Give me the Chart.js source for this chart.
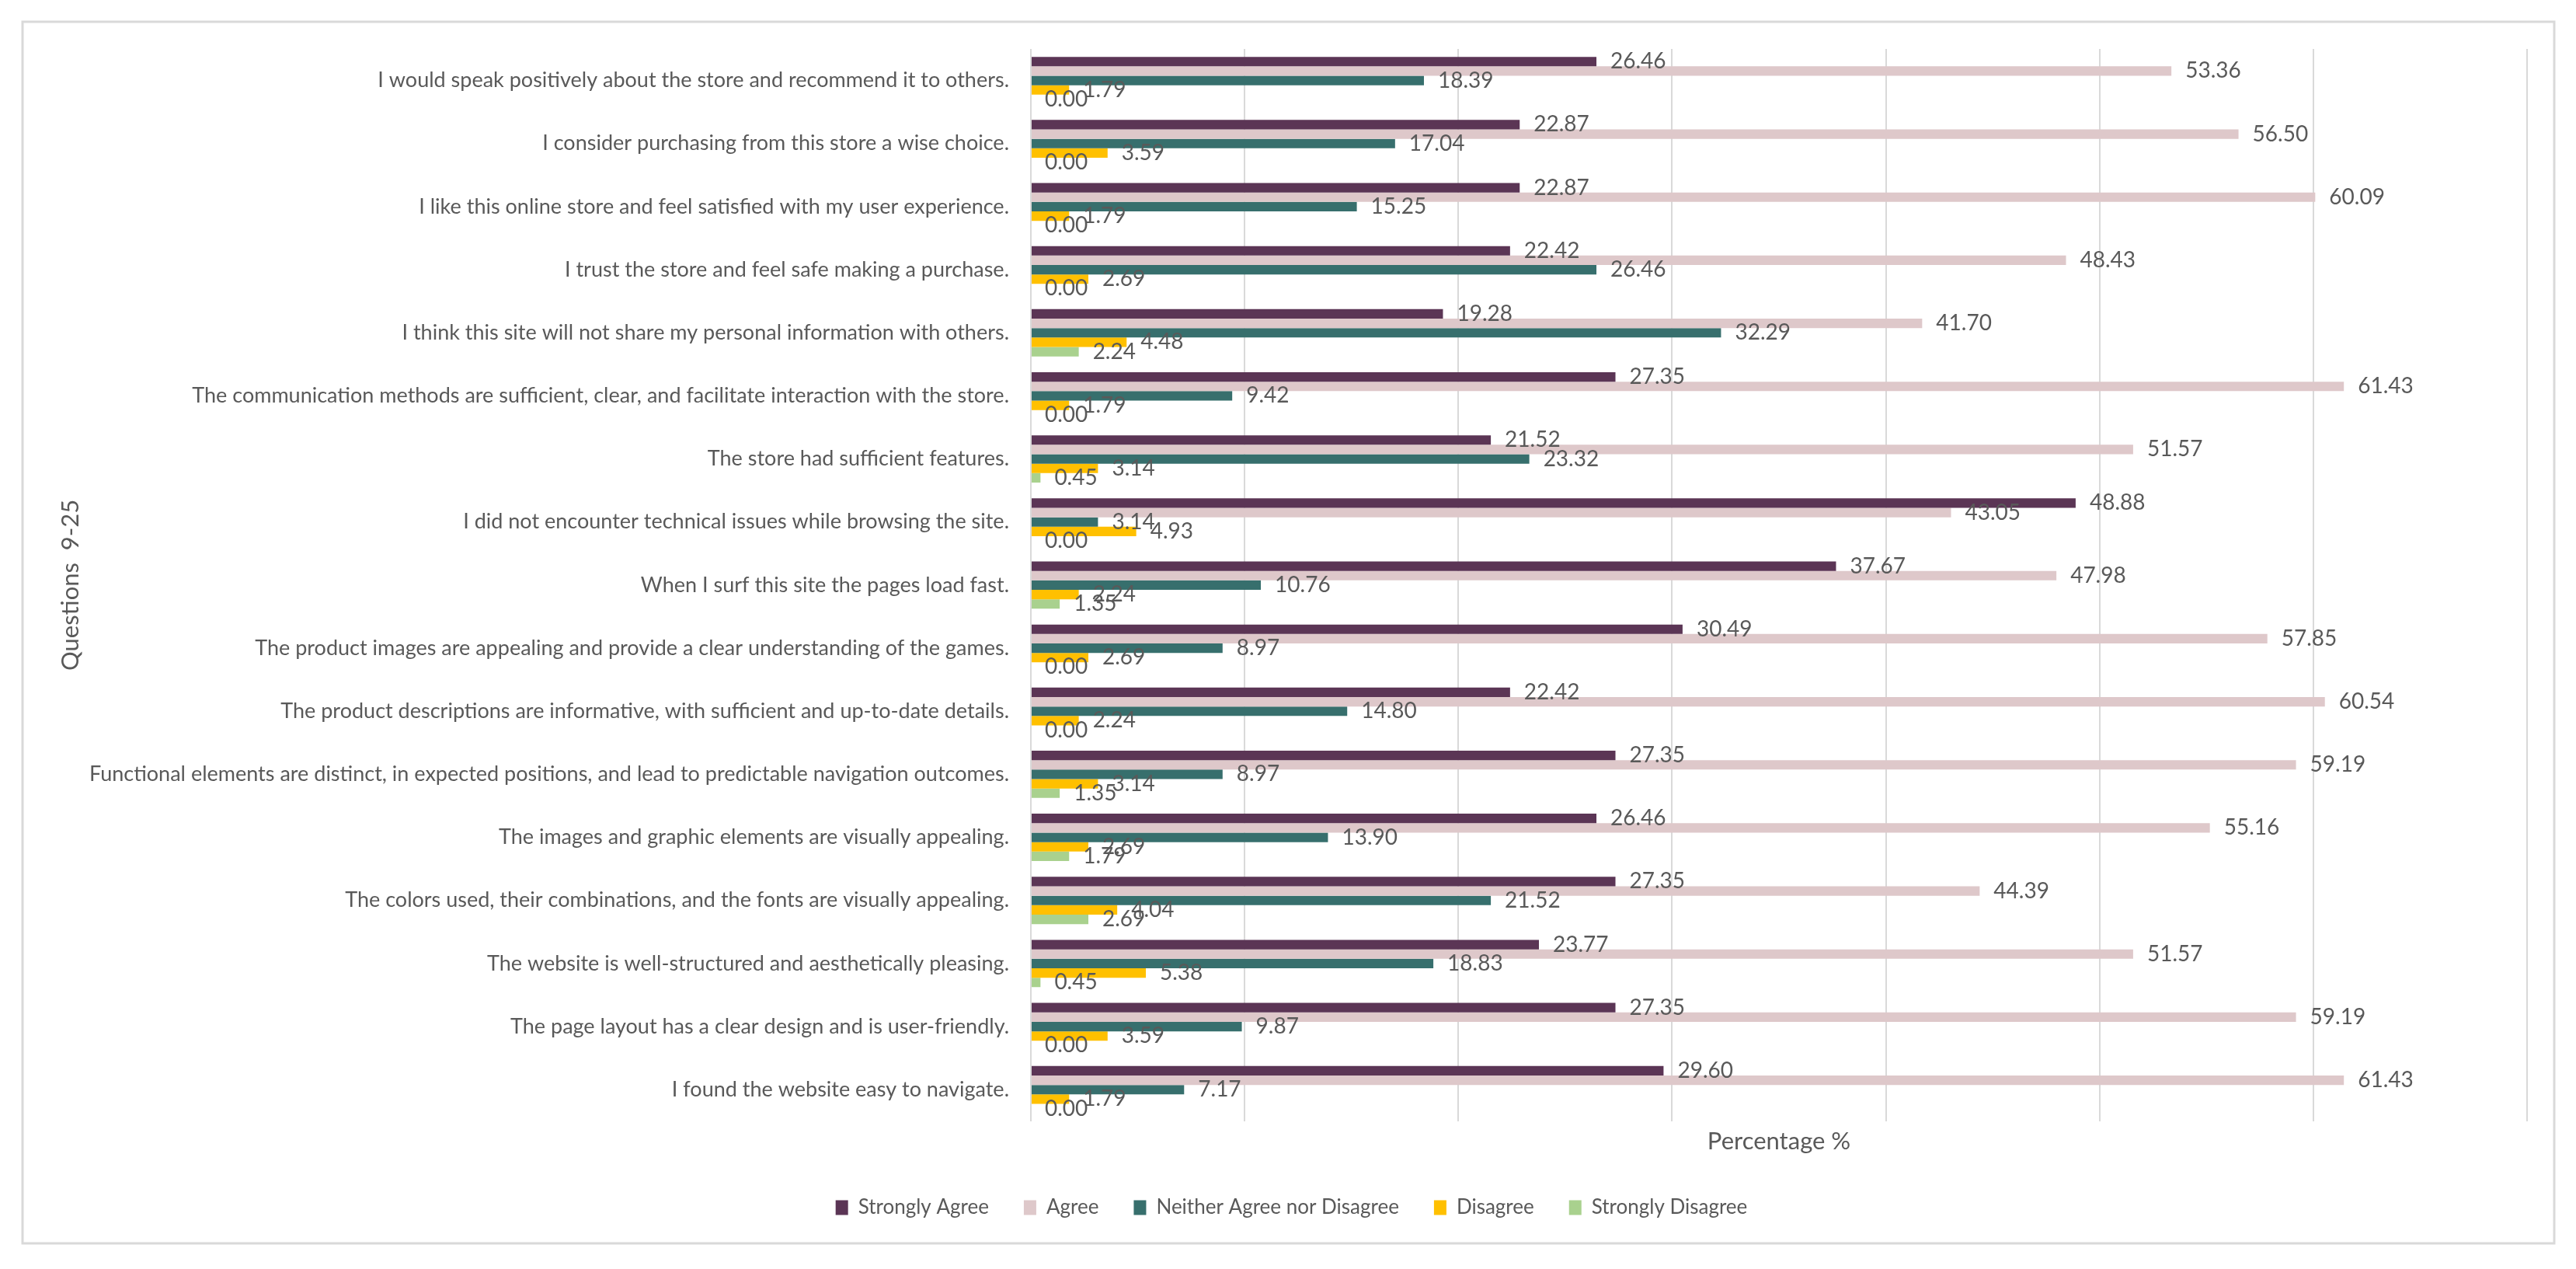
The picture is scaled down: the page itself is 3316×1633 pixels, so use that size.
<!DOCTYPE html>
<html>
<head>
<meta charset="utf-8">
<script src="https://cdn.jsdelivr.net/npm/chart.js@4.4.1/dist/chart.umd.min.js"></script>
<style>
  html, body { margin: 0; padding: 0; background: #fff; }
  #chart { display: block; }
</style>
</head>
<body>
<canvas id="chart" width="3316" height="1633"></canvas>
<script>
const QUESTIONS = [
  "I would speak positively about the store and recommend it to others.",
  "I consider purchasing from this store a wise choice.",
  "I like this online store and feel satisfied with my user experience.",
  "I trust the store and feel safe making a purchase.",
  "I think this site will not share my personal information with others.",
  "The communication methods are sufficient, clear, and facilitate interaction with the store.",
  "The store had sufficient features.",
  "I did not encounter technical issues while browsing the site.",
  "When I surf this site the pages load fast.",
  "The product images are appealing and provide a clear understanding of the games.",
  "The product descriptions are informative, with sufficient and up-to-date details.",
  "Functional elements are distinct, in expected positions, and lead to predictable navigation outcomes.",
  "The images and graphic elements are visually appealing.",
  "The colors used, their combinations, and the fonts are visually appealing.",
  "The website is well-structured and aesthetically pleasing.",
  "The page layout has a clear design and is user-friendly.",
  "I found the website easy to navigate."
];

const SERIES_NAMES = ["Strongly Agree", "Agree", "Neither Agree nor Disagree", "Disagree", "Strongly Disagree"];

const STRONGLY_AGREE = [26.46, 22.87, 22.87, 22.42, 19.28, 27.35, 21.52, 48.88, 37.67, 30.49, 22.42, 27.35, 26.46, 27.35, 23.77, 27.35, 29.60];
const AGREE = [53.36, 56.50, 60.09, 48.43, 41.70, 61.43, 51.57, 43.05, 47.98, 57.85, 60.54, 59.19, 55.16, 44.39, 51.57, 59.19, 61.43];
const NEITHER = [18.39, 17.04, 15.25, 26.46, 32.29, 9.42, 23.32, 3.14, 10.76, 8.97, 14.80, 8.97, 13.90, 21.52, 18.83, 9.87, 7.17];
const DISAGREE = [1.79, 3.59, 1.79, 2.69, 4.48, 1.79, 3.14, 4.93, 2.24, 2.69, 2.24, 3.14, 2.69, 4.04, 5.38, 3.59, 1.79];
const STRONGLY_DISAGREE = [0.00, 0.00, 0.00, 0.00, 2.24, 0.00, 0.45, 0.00, 1.35, 0.00, 0.00, 1.35, 1.79, 2.69, 0.45, 0.00, 0.00];

const X_MIN = 0;
const X_MAX = 70;
const X_STEP = 10;

const COLORS = ["#5B3555", "#DEC8CA", "#376F6D", "#FFC000", "#A9D18E"];
const TEXT_COLOR = "#595959";
const GRID_COLOR = "#D9D9D9";
const FONT = "Lato";

const values = [STRONGLY_AGREE, AGREE, NEITHER, DISAGREE, STRONGLY_DISAGREE];

// frame around the whole figure
const framePlugin = {
  id: "frame",
  beforeDraw(chart) {
    const ctx = chart.ctx;
    ctx.save();
    ctx.fillStyle = "#fff";
    ctx.fillRect(0, 0, chart.width, chart.height);
    ctx.strokeStyle = GRID_COLOR;
    ctx.lineWidth = 3;
    ctx.strokeRect(29, 28, 3259, 1572);
    ctx.restore();
  }
};

// value labels at the end of each bar
const valueLabels = {
  id: "valueLabels",
  afterDatasetsDraw(chart) {
    const ctx = chart.ctx;
    ctx.save();
    ctx.font = `28px ${FONT}`;
    ctx.fillStyle = TEXT_COLOR;
    ctx.textAlign = "left";
    ctx.textBaseline = "middle";
    chart.data.datasets.forEach((ds, i) => {
      const meta = chart.getDatasetMeta(i);
      meta.data.forEach((bar, j) => {
        ctx.fillText(ds.data[j].toFixed(2), bar.x + 18, bar.y);
      });
    });
    ctx.restore();
  }
};

Chart.defaults.font.family = FONT;
Chart.defaults.color = TEXT_COLOR;

new Chart(document.getElementById("chart"), {
  type: "bar",
  data: {
    labels: QUESTIONS,
    datasets: SERIES_NAMES.map((name, i) => ({
      label: name,
      data: values[i],
      backgroundColor: COLORS[i],
      borderWidth: 0,
      barPercentage: 1.0,
      categoryPercentage: 0.75
    }))
  },
  options: {
    indexAxis: "y",
    responsive: false,
    devicePixelRatio: 1,
    animation: false,
    layout: { padding: { left: 72, right: 63, top: 63, bottom: 56 } },
    scales: {
      x: {
        min: X_MIN,
        max: X_MAX,
        ticks: { display: false, stepSize: X_STEP },
        grid: { color: GRID_COLOR, lineWidth: 2, drawTicks: false },
        border: { display: false },
        title: {
          display: true,
          text: "Percentage %",
          font: { size: 31 },
          color: TEXT_COLOR,
          padding: { top: 8, bottom: 8 }
        }
      },
      y: {
        ticks: { font: { size: 27 }, color: TEXT_COLOR, padding: 28, autoSkip: false },
        grid: { display: false, drawTicks: false },
        border: { display: false },
        title: {
          display: true,
          text: "Questions  9-25",
          font: { size: 31 },
          color: TEXT_COLOR,
          padding: 0
        },
        afterFit(scale) { scale.width = 1327 - 72; }
      }
    },
    plugins: {
      legend: {
        position: "bottom",
        labels: {
          boxWidth: 16,
          boxHeight: 19,
          padding: 45,
          font: { size: 26 },
          color: TEXT_COLOR
        }
      },
      tooltip: { enabled: false }
    }
  },
  plugins: [framePlugin, valueLabels]
});
</script>
</body>
</html>
